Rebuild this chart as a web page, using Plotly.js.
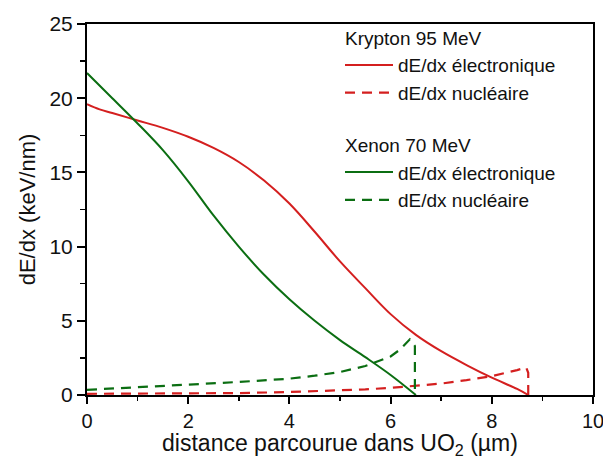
<!DOCTYPE html>
<html>
<head>
<meta charset="utf-8">
<script src="https://cdn.plot.ly/plotly-3.0.1.min.js"></script>
<style>html,body{margin:0;padding:0;background:#fff}#chart{width:603px;height:459px}</style>
</head>
<body>
<div id="chart"></div>
<script>
// Krypton 95 MeV – electronic stopping
const krElecX = [0, 0.25, 0.5, 1, 1.5, 2, 2.5, 3, 3.5, 4, 4.5, 5, 5.5, 6, 6.5, 7, 7.5, 8, 8.5, 8.72];
const krElecY = [19.6, 19.25, 19.0, 18.5, 18.0, 17.4, 16.65, 15.7, 14.45, 12.9, 11.0, 9.0, 7.2, 5.45, 4.05, 2.95, 2.02, 1.17, 0.41, 0];
// Krypton 95 MeV – nuclear stopping
const krNucX = [0, 1, 2, 3, 4, 5, 5.5, 6, 6.5, 7, 7.5, 8, 8.5, 8.68, 8.72, 8.72];
const krNucY = [0.08, 0.09, 0.1, 0.13, 0.2, 0.3, 0.38, 0.48, 0.6, 0.77, 1.0, 1.27, 1.68, 1.85, 1.5, 0];
// Xenon 70 MeV – electronic stopping
const xeElecX = [0, 0.5, 1, 1.5, 2, 2.5, 3, 3.5, 4, 4.5, 5, 5.5, 6, 6.5];
const xeElecY = [21.7, 20.0, 18.3, 16.5, 14.4, 12.1, 10.0, 8.1, 6.45, 5.0, 3.7, 2.55, 1.35, 0];
// Xenon 70 MeV – nuclear stopping
const xeNucX = [0, 1, 2, 3, 4, 4.5, 5, 5.5, 6, 6.2, 6.38, 6.48, 6.48];
const xeNucY = [0.35, 0.5, 0.7, 0.88, 1.1, 1.3, 1.55, 1.95, 2.6, 3.1, 3.75, 3.3, 0];

const labels = {elec: 'dE/dx électronique', nuc: 'dE/dx nucléaire'};
const groups = {kr: 'Krypton 95 MeV', xe: 'Xenon 70 MeV'};

const red = '#d41f1f', green = '#0b6e12';

const traces = [
  {x: krElecX, y: krElecY, name: labels.elec, legendgroup: 'kr', legendgrouptitle: {text: groups.kr},
   mode: 'lines', line: {color: red, width: 2, shape: 'spline', smoothing: 1}},
  {x: krNucX, y: krNucY, name: labels.nuc, legendgroup: 'kr',
   mode: 'lines', line: {color: red, width: 2.2, dash: '10px,7px'}},
  {x: xeElecX, y: xeElecY, name: labels.elec, legendgroup: 'xe', legendgrouptitle: {text: groups.xe},
   mode: 'lines', line: {color: green, width: 2, shape: 'spline', smoothing: 1}},
  {x: xeNucX, y: xeNucY, name: labels.nuc, legendgroup: 'xe',
   mode: 'lines', line: {color: green, width: 2.2, dash: '10px,7px'}}
];

const fam = "'Liberation Sans', Arial, sans-serif";
const ink = '#111';

const layout = {
  width: 603, height: 459,
  margin: {l: 87, r: 10, t: 24, b: 64},
  paper_bgcolor: '#fff', plot_bgcolor: '#fff',
  font: {family: fam, color: ink},
  showlegend: true,
  legend: {x: 0.5, xanchor: 'left', y: 1.015, yanchor: 'top', bgcolor: 'rgba(0,0,0,0)',
           itemwidth: 48,
           font: {family: fam, size: 19, color: ink},
           grouptitlefont: {family: fam, size: 19, color: ink},
           tracegroupgap: 24, traceorder: 'grouped'},
  xaxis: {range: [0, 10], dtick: 2, tick0: 0, showgrid: false, zeroline: false,
          showline: true, linecolor: '#000', linewidth: 2, mirror: true,
          ticks: 'outside', ticklen: 7, tickwidth: 2, tickcolor: '#000',
          ticklabeloverflow: 'allow', ticklabelstandoff: 0,
          minor: {dtick: 1, ticks: 'outside', ticklen: 4, tickwidth: 1.5, tickcolor: '#000', showgrid: false},
          tickfont: {family: fam, size: 20, color: ink},
          title: {text: 'distance parcourue dans UO<sub>2</sub> (µm)',
                  font: {family: fam, size: 23, color: ink}}},
  yaxis: {range: [0, 25], dtick: 5, tick0: 0, showgrid: false, zeroline: false,
          showline: true, linecolor: '#000', linewidth: 2, mirror: true,
          ticks: 'outside', ticklen: 8, tickwidth: 2, tickcolor: '#000',
          minor: {dtick: 2.5, ticks: 'outside', ticklen: 5, tickwidth: 1.5, tickcolor: '#000', showgrid: false},
          tickfont: {family: fam, size: 21, color: ink},
          title: {text: 'dE/dx (keV/nm)', standoff: 8,
                  font: {family: fam, size: 22, color: ink}}}
};

Plotly.newPlot('chart', traces, layout, {staticPlot: true, displayModeBar: false});
</script>
</body>
</html>
